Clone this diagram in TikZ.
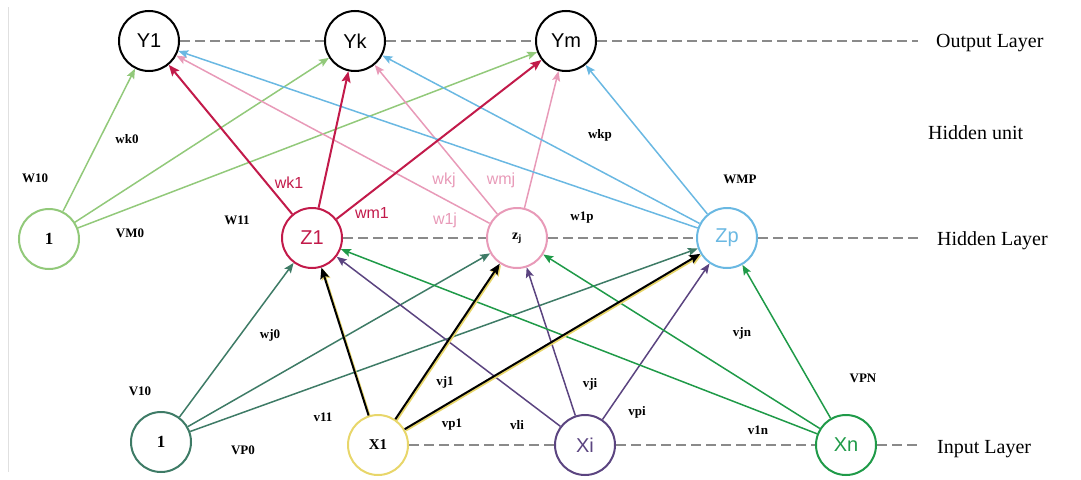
\documentclass[tikz,border=0pt]{standalone}
\usepackage{fontspec}
\setmainfont{Liberation Serif}
\newfontfamily\sansf{Liberation Sans}
\usetikzlibrary{arrows.meta}
\definecolor{lgreen}{HTML}{92C97A}
\definecolor{crim}{HTML}{C21A4A}
\definecolor{pinkc}{HTML}{E89AB8}
\definecolor{lblue}{HTML}{6AB8E2}
\definecolor{teal}{HTML}{3E7B66}
\definecolor{yel}{HTML}{E8D66A}
\definecolor{purp}{HTML}{5B4480}
\definecolor{grn}{HTML}{1F9A48}
\definecolor{dgray}{HTML}{8A8A8A}
\begin{document}
\begin{tikzpicture}[x=1pt,y=-1pt,
  neuron/.style={circle, minimum size=60pt, inner sep=0pt, line width=2pt, draw},
  wt/.style={font=\bfseries\fontsize{13}{13}\selectfont, inner sep=0pt},
  cwt/.style={font=\sansf\fontsize{16}{16}\selectfont, inner sep=0pt},
  layer/.style={font=\fontsize{20}{20}\selectfont, anchor=west, inner sep=0pt},
  edge/.style={line width=1.5pt, -{Stealth[length=10pt,width=8pt,inset=2pt]}},
  thick edge/.style={line width=2pt, -{Stealth[length=11pt,width=9pt,inset=2pt]}},
  dline/.style={draw=dgray, line width=2.2pt, dash pattern=on 10pt off 5pt},
  ntext/.style={font=\sansf\fontsize{20}{20}\selectfont},
  btext/.style={font=\bfseries\fontsize{17}{17}\selectfont}
]
\useasboundingbox (0,0) rectangle (1081,479);
\draw[draw=black!12, line width=1pt] (8,7) -- (8,472);

% nodes
\node[neuron, draw=black, ntext] (Y1) at (149,41) {Y1};
\node[neuron, draw=black, ntext] (Yk) at (355,41) {Yk};
\node[neuron, draw=black, ntext] (Ym) at (566,41) {Ym};
\node[neuron, draw=lgreen, btext] (B1) at (49,239) {1};
\node[neuron, draw=crim, text=crim, ntext] (Z1) at (312,238) {Z1};
\node[neuron, draw=pinkc, font=\bfseries\fontsize{14}{14}\selectfont] (Zj) at (517,238) {z\textsubscript{j}};
\node[neuron, draw=lblue, text=lblue, ntext] (Zp) at (727,238) {Zp};
\node[neuron, draw=teal, btext] (B0) at (161,442) {1};
\node[neuron, draw=yel, font=\bfseries\fontsize{15}{15}\selectfont] (X1) at (378,445) {X1};
\node[neuron, draw=purp, text=purp, ntext] (Xi) at (585,445) {Xi};
\node[neuron, draw=grn, text=grn, ntext] (Xn) at (846,445) {Xn};

% layer labels
\node[layer] (LO) at (936,43) {Output Layer};
\node[layer] (LU) at (928,133) {Hidden unit};
\node[layer] (LH) at (937,241) {Hidden Layer};
\node[layer] (LI) at (937,449) {Input Layer};
\coordinate (eO) at (918,41);
\coordinate (eH) at (918,238);
\coordinate (eI) at (918,445);

% dashed layer lines
\draw[dline] (Y1) -- (Yk);
\draw[dline] (Yk) -- (Ym);
\draw[dline] (Ym.east) -- (eO);
\draw[dline] (Z1) -- (Zj);
\draw[dline] (Zj) -- (Zp);
\draw[dline] (Zp.east) -- (eH);
\draw[dline] (X1) -- (Xi);
\draw[dline] (Xi) -- (Xn);
\draw[dline] (Xn.east) -- (eI);

% hidden -> output
\draw[edge, lgreen] (B1) -- (Y1);
\draw[edge, lgreen] (B1) -- (Yk);
\draw[edge, lgreen] (B1) -- (Ym);
\draw[edge, pinkc] (Zj) -- (Y1);
\draw[edge, pinkc] (Zj) -- (Yk);
\draw[edge, pinkc] (Zj) -- (Ym);
\draw[edge, lblue] (Zp) -- (Y1);
\draw[edge, lblue] (Zp) -- (Yk);
\draw[edge, lblue] (Zp) -- (Ym);
\draw[thick edge, crim] (Z1) -- (Y1);
\draw[thick edge, crim] (Z1) -- (Yk);
\draw[thick edge, crim] (Z1) -- (Ym);

% input -> hidden
\draw[edge, teal] (B0) -- (Z1);
\draw[edge, teal] (B0) -- (Zj);
\draw[edge, teal] (B0) -- (Zp);
\draw[edge, purp] (Xi) -- (Z1);
\draw[edge, purp] (Xi) -- (Zj);
\draw[edge, purp] (Xi) -- (Zp);
\draw[edge, grn] (Xn) -- (Z1);
\draw[edge, grn] (Xn) -- (Zj);
\draw[edge, grn] (Xn) -- (Zp);
\begin{scope}[transform canvas={xshift=1.3pt,yshift=-1.3pt}]
\draw[thick edge, yel] (X1) -- (Z1);
\draw[thick edge, yel] (X1) -- (Zj);
\draw[thick edge, yel] (X1) -- (Zp);
\end{scope}
\draw[thick edge, black] (X1) -- (Z1);
\draw[thick edge, black] (X1) -- (Zj);
\draw[thick edge, black] (X1) -- (Zp);

% weight labels
\node[wt] (lW10) at (35,178) {W10};
\node[wt] (lwk0) at (127,139) {wk0};
\node[wt] (lVM0) at (130,233) {VM0};
\node[wt] (lW11) at (237,220) {W11};
\node[cwt, text=crim] (lwk1) at (289,183) {wk1};
\node[cwt, text=crim] (lwm1) at (372,213) {wm1};
\node[cwt, text=pinkc] (lwkj) at (444,180) {wkj};
\node[cwt, text=pinkc] (lwmj) at (501,180) {wmj};
\node[cwt, text=pinkc] (lw1j) at (445,220) {w1j};
\node[wt] (lw1p) at (582,218) {w1p};
\node[wt] (lwkp) at (600,135) {wkp};
\node[wt] (lWMP) at (740,179) {WMP};
\node[wt] (lwj0) at (270,335) {wj0};
\node[wt] (lV10) at (140,391) {V10};
\node[wt] (lv11) at (323,417) {v11};
\node[wt] (lVP0) at (243,450) {VP0};
\node[wt] (lvj1) at (445,382) {vj1};
\node[wt] (lvp1) at (452,425) {vp1};
\node[wt] (lvli) at (517,425) {vli};
\node[wt] (lvji) at (590,384) {vji};
\node[wt] (lvpi) at (637,412) {vpi};
\node[wt] (lvjn) at (742,333) {vjn};
\node[wt] (lVPN) at (863,378) {VPN};
\node[wt] (lv1n) at (758,430) {v1n};
\end{tikzpicture}
\end{document}
